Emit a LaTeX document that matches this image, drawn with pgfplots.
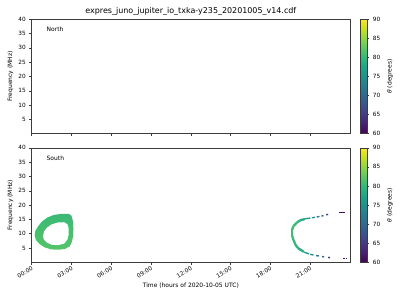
\documentclass[border=0pt]{standalone}
\usepackage{fontspec}
\setmainfont{DejaVu Sans}
\usepackage{pgfplots}
\pgfplotsset{compat=1.18}
\definecolor{loopteal}{RGB}{58,185,118}
\definecolor{looplight}{RGB}{84,197,104}
\definecolor{framegray}{RGB}{60,60,60}
\begin{document}
\begin{tikzpicture}
\pgfplotsset{
  panel/.style={
    scale only axis, width=318.3bp, height=114.5bp,
    xmin=0, xmax=24, ymin=0, ymax=40,
    xtick={0,3,...,21}, ytick={5,10,...,40},
    xtick pos=bottom, ytick pos=left,
    tick align=outside, major tick length=2.5bp,
    tick style={framegray, line width=0.4pt},
    axis line style={framegray, line width=0.5pt},
    /pgf/number format/assume math mode=true,
    tick label style={font=\fontsize{5.8}{6.5}\selectfont},
    label style={font=\fontsize{6}{7}\selectfont},
    ylabel={Frequency (MHz)},
    ylabel style={yshift=-2bp},
    colormap/viridis, point meta min=60, point meta max=90,
    colorbar,
    colorbar style={
      width=6.6bp, at={(parent axis.north east)}, anchor=north west, xshift=2.2bp,
      ytick={60,65,...,90}, ytick pos=right, yticklabel pos=right,
      major tick length=2bp, tick align=outside,
      tick style={framegray, line width=0.4pt},
      axis line style={framegray, line width=0.5pt},
      /pgf/number format/assume math mode=true,
      yticklabel style={font=\fontsize{5.8}{6.5}\selectfont},
      ylabel={\textit{θ} (degrees)},
      ylabel style={font=\fontsize{6}{7}\selectfont},
    },
  }
}
% ---------------- top panel (North) ----------------
\begin{axis}[panel, name=top, at={(0,128.6bp)}, anchor=south west, xticklabels={},
  title={expres\_juno\_jupiter\_io\_txka-y235\_20201005\_v14.cdf},
  title style={font=\fontsize{8}{9}\selectfont, anchor=base, yshift=-0.4bp}]
\node[anchor=west, font=\fontsize{6}{7}\selectfont] at (rel axis cs:0.036,0.91) {North};
\end{axis}
% ---------------- bottom panel (South) ----------------
\begin{axis}[panel, name=bot, at={(0,0)}, anchor=south west,
  xticklabels={00:00,03:00,06:00,09:00,12:00,15:00,18:00,21:00},
  xticklabel style={rotate=30, anchor=north east, inner sep=1bp},
  xlabel={Time (hours of 2020-10-05 UTC)}]
\node[anchor=west, font=\fontsize{6}{7}\selectfont] at (rel axis cs:0.036,0.91) {South};
% Io loop: outer boundary
\addplot[draw=none, top color=loopteal, bottom color=looplight] coordinates {
 (0.224,9.38) (0.274,11.0) (0.475,12.51) (0.777,14.25) (1.18,15.64) (1.68,16.57)
 (2.24,16.92) (2.79,16.92) (2.99,16.34) (3.09,14.83) (3.14,11.93) (3.12,9.03)
 (3.04,7.29) (2.87,5.55) (2.49,4.63) (1.98,4.39) (1.48,4.51) (0.98,5.21)
 (0.60,6.37) (0.325,7.76)} -- cycle;
% inner hole
\addplot[fill=white, draw=none] coordinates {
 (0.85,9.0) (0.93,10.8) (1.18,12.2) (1.53,13.3) (1.98,13.9) (2.44,14.0)
 (2.69,13.3) (2.79,11.9) (2.79,9.6) (2.69,7.9) (2.44,6.5) (1.98,6.0)
 (1.53,6.1) (1.18,6.8) (0.93,7.9)} -- cycle;
% right arc: continuous nose
\addplot[mesh, line width=2.3bp, point meta=explicit, shader=flat] coordinates {
 (20.6,15.1) [78] (20.25,14.7) [79] (20.0,13.9) [80] (19.74,12.7) [80.5]
 (19.62,11.2) [81] (19.62,9.5) [81] (19.74,7.8) [80.5] (19.9,6.0) [80]
 (20.1,4.9) [79] (20.5,3.7) [78]};
% dashes
\addplot[mesh, line width=1.4bp, point meta=explicit, shader=flat, unbounded coords=jump] coordinates {
 (20.6,15.2) [77] (21.0,15.45) [77] (21.0,nan) [77]
 (21.15,15.55) [75] (21.35,15.7) [75] (21.35,nan) [75]
 (21.5,15.85) [72] (21.7,16.0) [72] (21.7,nan) [72]
 (21.85,16.15) [70] (22.0,16.3) [70] (22.0,nan) [70]
 (22.2,16.6) [66] (22.35,16.75) [66] (22.35,nan) [66]
 (23.15,17.3) [61] (23.6,17.3) [61] (23.6,nan) [61]
 (20.5,3.6) [77] (20.9,2.95) [77] (20.9,nan) [77]
 (21.0,2.8) [75] (21.25,2.55) [75] (21.25,nan) [75]
 (21.45,2.35) [72] (21.65,2.2) [72] (21.65,nan) [72]
 (21.9,2.0) [69] (22.05,1.9) [69] (22.05,nan) [69]
 (22.35,1.7) [65] (22.5,1.6) [65] (22.5,nan) [65]
 (23.5,1.35) [61] (23.6,1.35) [61] (23.6,nan) [61]
 (23.7,1.35) [61] (23.8,1.35) [61]};
\end{axis}
\pgfresetboundingbox
\useasboundingbox (-31.7bp,-37.7bp) rectangle (368.3bp,262.3bp);
\end{tikzpicture}
\end{document}
